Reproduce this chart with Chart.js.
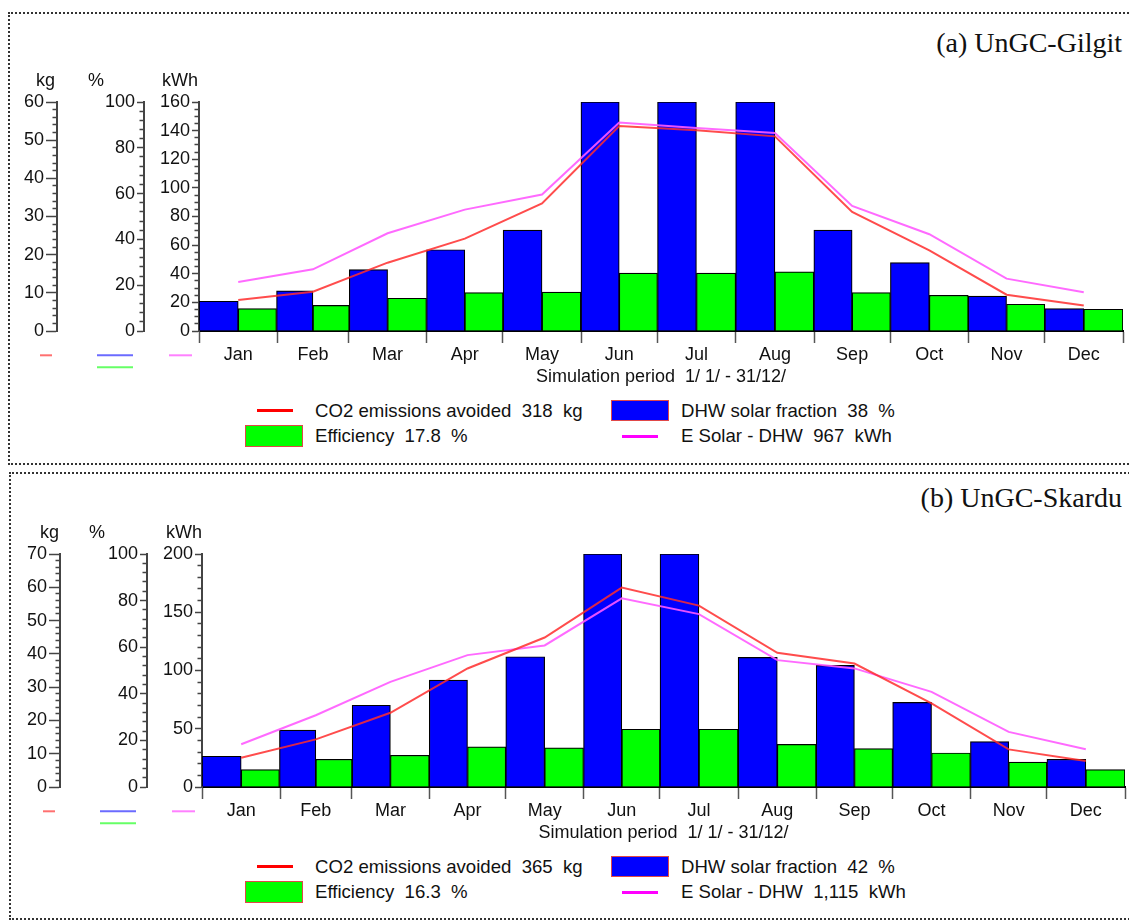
<!DOCTYPE html>
<html>
<head>
<meta charset="utf-8">
<script src="https://cdn.jsdelivr.net/npm/chart.js@4.4.1/dist/chart.umd.min.js"></script>
<style>
  html, body { margin:0; padding:0; background:#fff; width:1129px; height:921px; overflow:hidden;
    font-family:"Liberation Sans", Arial, sans-serif; }
  .panel { position:absolute; border:2px dotted #333; box-sizing:border-box; }
  canvas { position:absolute; left:0; }
  .title { position:absolute; right:7px; font-family:"Liberation Serif","Times New Roman",serif;
    font-size:28px; line-height:32px; color:#111; white-space:nowrap; }
  .leg { position:absolute; font-size:18.6px; line-height:22px; color:#111; white-space:pre; }
  .sw-line { position:absolute; height:3px; }
  .sw-box { position:absolute; box-sizing:border-box; border:1px solid #e04848; }
</style>
</head>
<body>
<div class="panel" style="left:8px;top:12px;width:1140px;height:453px;"></div>
<div class="panel" style="left:9px;top:472px;width:1140px;height:448px;"></div>

<div class="title" style="top:27px;">(a) UnGC-Gilgit</div>
<div class="title" style="top:482px;">(b) UnGC-Skardu</div>

<canvas id="chartA" width="1129" height="331" style="top:60px;width:1129px;height:331px;"></canvas>
<canvas id="chartB" width="1129" height="327" style="top:520px;width:1129px;height:327px;"></canvas>

<div id="legendA"></div>
<div id="legendB"></div>

<script>
// ---------- shared categories ----------
const MONTHS = ['Jan','Feb','Mar','Apr','May','Jun','Jul','Aug','Sep','Oct','Nov','Dec'];
const DAYS_IN_MONTH = [31,28,31,30,31,30,31,31,30,31,30,31];
const UNIT_LABELS = ['kg', '%', 'kWh'];
const X_TITLE = 'Simulation period  1/ 1/ - 31/12/';

// ---------- (a) UnGC-Gilgit ----------
const titleA = '(a) UnGC-Gilgit';
const solarFractionA = [13.0, 17.5, 26.8, 35.5, 44.1, 100, 100, 100, 44.1, 29.9, 15.2, 9.8];   // %
const efficiencyA    = [9.8, 11.2, 14.3, 16.8, 17.0, 25.3, 25.3, 25.8, 16.8, 15.6, 11.7, 9.5];   // %
const co2A           = [8.1, 10.3, 17.9, 24.2, 33.4, 53.7, 52.6, 51.0, 31.2, 21.1, 9.5, 6.7];    // kg
const eSolarA        = [34.2, 43.1, 68.3, 84.8, 95.3, 145.6, 141.9, 138.4, 87.4, 67.6, 36.6, 27.0]; // kWh
const kgTicksA  = [0, 10, 20, 30, 40, 50, 60];
const pctTicksA = [0, 20, 40, 60, 80, 100];
const kwhTicksA = [0, 20, 40, 60, 80, 100, 120, 140, 160];
const minorStepsA = { kg: 2, pct: 4, kwh: 5 };
const legendA = ['CO2 emissions avoided  318  kg', 'DHW solar fraction  38  %',
                 'Efficiency  17.8  %', 'E Solar - DHW  967  kWh'];

// ---------- (b) UnGC-Skardu ----------
const titleB = '(b) UnGC-Skardu';
const solarFractionB = [13.2, 24.4, 35.1, 45.9, 55.9, 100, 100, 55.6, 52.2, 36.3, 19.5, 11.9];
const efficiencyB    = [7.5, 11.9, 13.6, 17.2, 16.8, 24.8, 24.8, 18.3, 16.5, 14.6, 10.7, 7.5];
const co2B           = [8.8, 14.3, 22.3, 35.6, 44.9, 59.9, 54.5, 40.3, 37.1, 25.1, 11.3, 7.8];
const eSolarB        = [36.7, 61.6, 90.2, 113.2, 121.5, 161.9, 148.4, 108.9, 101.8, 81.7, 47.3, 32.4];
const kgTicksB  = [0, 10, 20, 30, 40, 50, 60, 70];
const pctTicksB = [0, 20, 40, 60, 80, 100];
const kwhTicksB = [0, 50, 100, 150, 200];
const minorStepsB = { kg: 2, pct: 4, kwh: 10 };
const legendB = ['CO2 emissions avoided  365  kg', 'DHW solar fraction  42  %',
                 'Efficiency  16.3  %', 'E Solar - DHW  1,115  kWh'];

// ---------- calendar geometry (days) ----------
const monthStart = [];
{ let acc = 0; for (const d of DAYS_IN_MONTH) { monthStart.push(acc); acc += d; } }
const YEAR_DAYS = DAYS_IN_MONTH.reduce((a, b) => a + b, 0);
const monthMid = monthStart.map((s, i) => s + DAYS_IN_MONTH[i] / 2);
const monthBounds = monthStart.concat([YEAR_DAYS]);

const FONT = '"Liberation Sans", Arial, sans-serif';
const COL = { red: 'rgba(255,45,45,0.85)', mag: 'rgba(255,90,255,0.9)', blue: '#0000ff', green: '#00ff00' };

function barData(values, firstHalf) {
  const out = [];
  values.forEach((v, i) => {
    const s = monthStart[i], d = DAYS_IN_MONTH[i];
    out.push({ x: s + d / 4, y: firstHalf ? v : null });
    out.push({ x: s + 3 * d / 4, y: firstHalf ? null : v });
  });
  return out;
}
function lineData(values) { return values.map((v, i) => ({ x: monthMid[i], y: v })); }

function yAxis(majors, minor, weight, width, tickLen) {
  const majorStep = majors[1] - majors[0];
  return {
    type: 'linear', position: 'left', weight: weight,
    min: majors[0], max: majors[majors.length - 1],
    afterBuildTicks: (scale) => {
      const n = Math.round((scale.max - scale.min) / minor);
      const t = [];
      for (let k = 0; k <= n; k++) t.push({ value: scale.min + k * minor });
      scale.ticks = t;
    },
    afterFit: (scale) => { scale.width = width; },
    border: { display: true, color: '#444', width: 2 },
    grid: {
      drawOnChartArea: false, drawTicks: true, tickLength: tickLen, tickWidth: 1.5, tickColor: '#444',
      tickBorderDash: (ctx) => (Math.abs(ctx.tick.value % majorStep) < 1e-6) ? [] : [0, tickLen - 4.5, 6, 0]
    },
    ticks: {
      autoSkip: false, padding: 2, color: '#111', font: { size: 18, family: FONT },
      callback: (v) => (Math.abs(v % majorStep) < 1e-6) ? String(v) : ''
    }
  };
}

const axisDecor = {
  id: 'axisDecor',
  afterDraw(chart, args, opts) {
    const ctx = chart.ctx, top = chart.chartArea.top, bottom = chart.chartArea.bottom;
    ctx.save();
    ctx.font = '18px ' + FONT;
    ctx.fillStyle = '#111';
    ctx.textBaseline = 'middle';
    opts.items.forEach((u, i) => {
      const s = chart.scales[u.axis];
      ctx.textAlign = u.align;
      ctx.fillText(UNIT_LABELS[i], u.align === 'right' ? s.right + u.dx : s.left + u.dx, top - 21);
      u.marks.forEach(m => {
        ctx.strokeStyle = m.color; ctx.lineWidth = 2;
        ctx.beginPath();
        ctx.moveTo(s.left + m.x0, bottom + m.dy); ctx.lineTo(s.left + m.x1, bottom + m.dy);
        ctx.stroke();
      });
    });
    ctx.restore();
  }
};

function makeChart(id, d) {
  const barOpts = { borderColor: '#000', borderWidth: 1.2, borderSkipped: 'start', barThickness: 'flex',
                    categoryPercentage: 1, barPercentage: 1, skipNull: true, order: 1,
                    yAxisID: 'pct', xAxisID: 'x' };
  return new Chart(document.getElementById(id), {
    type: 'bar',
    data: {
      datasets: [
        { type: 'line', label: d.legend[0], data: lineData(d.co2), yAxisID: 'kg', xAxisID: 'x',
          borderColor: COL.red, borderWidth: 2, pointRadius: 0, tension: 0, order: 0 },
        { type: 'line', label: d.legend[3], data: lineData(d.eSolar), yAxisID: 'kwh', xAxisID: 'x',
          borderColor: COL.mag, borderWidth: 2, pointRadius: 0, tension: 0, order: 0 },
        Object.assign({ label: d.legend[1], data: barData(d.solar, true), backgroundColor: COL.blue }, barOpts),
        Object.assign({ label: d.legend[2], data: barData(d.eff, false), backgroundColor: COL.green }, barOpts)
      ]
    },
    options: {
      responsive: false, animation: false, devicePixelRatio: 1,
      layout: { padding: { top: d.padTop, right: d.padRight, bottom: 0, left: 0 } },
      plugins: { legend: { display: false }, tooltip: { enabled: false }, axisDecor: { items: d.decor } },
      scales: {
        x: {
          type: 'linear', position: 'bottom', min: 0, max: YEAR_DAYS, offset: false,
          afterBuildTicks: (scale) => {
            const vals = monthBounds.concat(monthMid).sort((a, b) => a - b);
            scale.ticks = vals.map(v => ({ value: v }));
          },
          afterFit: (scale) => { scale.height = 60; },
          border: { display: true, color: '#000', width: 2 },
          grid: {
            offset: false, drawOnChartArea: false, drawTicks: true, tickLength: 12, tickWidth: 1.5,
            tickColor: (ctx) => monthBounds.some(b => Math.abs(b - ctx.tick.value) < 1e-6) ? '#555' : 'rgba(0,0,0,0)'
          },
          ticks: {
            autoSkip: false, maxRotation: 0, padding: 1.5, color: '#111', font: { size: 18, family: FONT },
            callback: (v) => { const i = monthMid.findIndex(m => Math.abs(m - v) < 1e-6); return i >= 0 ? MONTHS[i] : ''; }
          },
          title: { display: true, text: X_TITLE, color: '#111', font: { size: 18, family: FONT },
                   padding: { top: 0, bottom: 3 } }
        },
        kg:  yAxis(d.kgTicks,  d.minor.kg,  3, d.w[0], 11),
        pct: yAxis(d.pctTicks, d.minor.pct, 2, d.w[1], 7),
        kwh: yAxis(d.kwhTicks, d.minor.kwh, 1, d.w[2], 7)
      }
    },
    plugins: [axisDecor]
  });
}

function marksFor() {
  return [
    [{ color: '#ff7070', x0: 0, x1: 0, dy: 24.3 }],
    [{ color: '#6b6bff', x0: 40, x1: 76, dy: 24.3 }, { color: '#66ff66', x0: 40, x1: 76, dy: 36.3 }],
    [{ color: '#ff80ff', x0: 25, x1: 48, dy: 24.3 }]
  ];
}

const mA = marksFor(); mA[0][0].x0 = 40; mA[0][0].x1 = 52;
makeChart('chartA', {
  co2: co2A, eSolar: eSolarA, solar: solarFractionA, eff: efficiencyA, legend: legendA,
  kgTicks: kgTicksA, pctTicks: pctTicksA, kwhTicks: kwhTicksA, minor: minorStepsA,
  padTop: 42, padRight: 6, w: [57, 87, 55],
  decor: [
    { axis: 'kg', align: 'right', dx: -2, marks: mA[0] },
    { axis: 'pct', align: 'left', dx: 31, marks: mA[1] },
    { axis: 'kwh', align: 'right', dx: -1, marks: mA[2] }
  ]
});

const mB = marksFor(); mB[0][0].x0 = 43; mB[0][0].x1 = 55;
makeChart('chartB', {
  co2: co2B, eSolar: eSolarB, solar: solarFractionB, eff: efficiencyB, legend: legendB,
  kgTicks: kgTicksB, pctTicks: pctTicksB, kwhTicks: kwhTicksB, minor: minorStepsB,
  padTop: 34, padRight: 4, w: [60, 87, 55],
  decor: [
    { axis: 'kg', align: 'right', dx: -1, marks: mB[0] },
    { axis: 'pct', align: 'left', dx: 29, marks: mB[1] },
    { axis: 'kwh', align: 'right', dx: 0, marks: mB[2] }
  ]
});

// ---------- HTML legends ----------
function buildLegend(elId, texts, rowY) {
  const el = document.getElementById(elId);
  const r1 = rowY, r2 = rowY + 25.5;
  el.innerHTML =
    `<div class="sw-line" style="left:257px;top:${r1 - 1.5}px;width:36px;background:#ff0000"></div>` +
    `<div class="leg" style="left:315px;top:${r1 - 11}px">${texts[0]}</div>` +
    `<div class="sw-box" style="left:611px;top:${r1 - 10.5}px;width:58px;height:21px;background:${COL.blue}"></div>` +
    `<div class="leg" style="left:681px;top:${r1 - 11}px">${texts[1]}</div>` +
    `<div class="sw-box" style="left:245px;top:${r2 - 11}px;width:58px;height:22px;background:${COL.green}"></div>` +
    `<div class="leg" style="left:315px;top:${r2 - 11}px">${texts[2]}</div>` +
    `<div class="sw-line" style="left:622px;top:${r2 - 1.5}px;width:36px;background:#ff00ff"></div>` +
    `<div class="leg" style="left:681px;top:${r2 - 11}px">${texts[3]}</div>`;
}
buildLegend('legendA', legendA, 410.7);
buildLegend('legendB', legendB, 866.7);
</script>
</body>
</html>
